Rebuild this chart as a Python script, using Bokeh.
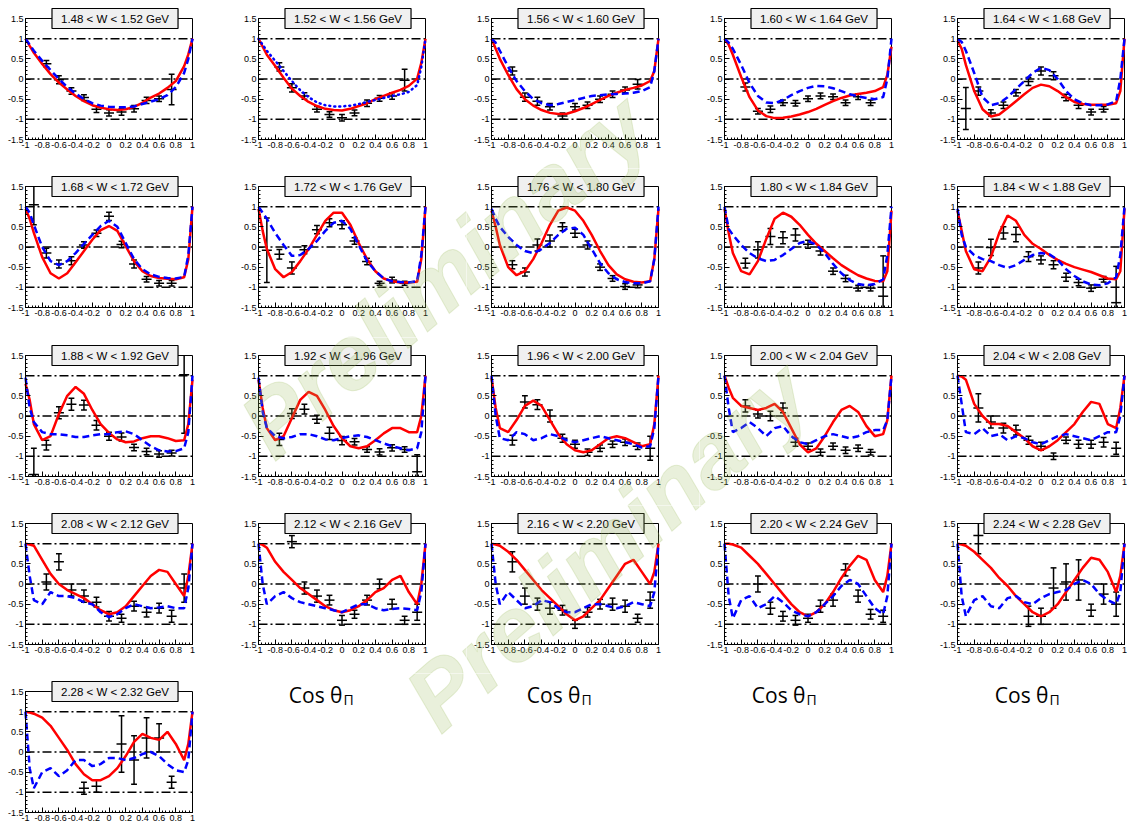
import math
from bokeh.plotting import figure
from bokeh.layouts import row, column
from bokeh.models import Label, LinearAxis, FixedTicker, CustomJSTickFormatter, Range1d, ColumnDataSource
from bokeh.embed import file_html
from bokeh.resources import INLINE

# ---------------- data ----------------
W_BINS = ["1.48 < W < 1.52 GeV", "1.52 < W < 1.56 GeV", "1.56 < W < 1.60 GeV", "1.60 < W < 1.64 GeV",
          "1.64 < W < 1.68 GeV", "1.68 < W < 1.72 GeV", "1.72 < W < 1.76 GeV", "1.76 < W < 1.80 GeV",
          "1.80 < W < 1.84 GeV", "1.84 < W < 1.88 GeV", "1.88 < W < 1.92 GeV", "1.92 < W < 1.96 GeV",
          "1.96 < W < 2.00 GeV", "2.00 < W < 2.04 GeV", "2.04 < W < 2.08 GeV", "2.08 < W < 2.12 GeV",
          "2.12 < W < 2.16 GeV", "2.16 < W < 2.20 GeV", "2.20 < W < 2.24 GeV", "2.24 < W < 2.28 GeV",
          "2.28 < W < 2.32 GeV"]

X_LIM = (-1.0, 1.0)
Y_LIM = (-1.5, 1.5)
X_TICKS = [-1, -0.8, -0.6, -0.4, -0.2, 0, 0.2, 0.4, 0.6, 0.8, 1]
Y_TICKS = [-1.5, -1, -0.5, 0, 0.5, 1, 1.5]
REF_LEVELS = [1, 0, -1]
AXIS_TITLE = "Cos θ"
AXIS_SUB = "Π"
WATERMARK = "Preliminary"

CURVE_X = [-1.0, -0.95, -0.9, -0.8, -0.7, -0.6, -0.5, -0.4, -0.3, -0.2, -0.1, 0.0,
           0.1, 0.2, 0.3, 0.4, 0.5, 0.6, 0.7, 0.8, 0.9, 0.95, 1.0]

X11 = [-0.75, -0.6, -0.45, -0.3, -0.15, 0.0, 0.15, 0.3, 0.45, 0.6, 0.75]
X12A = [-0.9, -0.75, -0.6, -0.45, -0.3, -0.15, 0.0, 0.15, 0.3, 0.45, 0.6, 0.75]
X12B = [-0.75, -0.6, -0.45, -0.3, -0.15, 0.0, 0.15, 0.3, 0.45, 0.6, 0.75, 0.9]
X13 = [-0.9, -0.75, -0.6, -0.45, -0.3, -0.15, 0.0, 0.15, 0.3, 0.45, 0.6, 0.75, 0.9]
X11B = [-0.6, -0.45, -0.3, -0.15, 0.0, 0.15, 0.3, 0.45, 0.6, 0.75, 0.9]
X20 = [-0.75, -0.15, 0.0, 0.15, 0.3, 0.45, 0.6, 0.75, 0.9]
X21 = [-0.3, -0.15, 0.15, 0.3, 0.45, 0.6, 0.75]

P01_Y = [0.38, -0.02, -0.3, -0.46, -0.75, -0.84, -0.82, -0.74, -0.53, -0.49, -0.26]
P01_E = [0.08, 0.1, 0.08, 0.07, 0.08, 0.08, 0.08, 0.08, 0.08, 0.07, 0.38]
P02_Y = [0.3, -0.22, -0.42, -0.75, -0.88, -0.96, -0.84, -0.6, -0.48, -0.42, -0.03]
P02_E = [0.1, 0.1, 0.08, 0.07, 0.07, 0.08, 0.07, 0.08, 0.07, 0.08, 0.27]
P03_Y = [0.2, -0.45, -0.55, -0.69, -0.92, -0.69, -0.65, -0.5, -0.38, -0.27, -0.13]
P03_E = [0.1, 0.1, 0.1, 0.08, 0.08, 0.08, 0.08, 0.08, 0.08, 0.07, 0.12]
P04_Y = [-0.2, -0.8, -0.75, -0.59, -0.6, -0.49, -0.42, -0.44, -0.59, -0.44, -0.59]
P04_E = [0.1, 0.07, 0.08, 0.07, 0.07, 0.07, 0.07, 0.07, 0.07, 0.07, 0.07]
P05_Y = [-0.73, -0.3, -0.84, -0.65, -0.34, -0.06, 0.2, 0.08, -0.46, -0.65, -0.82, -0.75]
P05_E = [0.52, 0.1, 0.08, 0.08, 0.08, 0.1, 0.1, 0.1, 0.08, 0.08, 0.07, 0.07]
P06_Y = [1.05, -0.15, -0.42, -0.34, 0.05, 0.34, 0.76, 0.06, -0.42, -0.8, -0.9, -0.9]
P06_E = [0.5, 0.12, 0.1, 0.1, 0.08, 0.08, 0.1, 0.08, 0.1, 0.07, 0.07, 0.07]
P07_Y = [-0.08, -0.18, -0.52, -0.07, 0.43, 0.6, 0.55, 0.15, -0.36, -0.9, -0.82, -0.9]
P07_E = [0.8, 0.12, 0.15, 0.1, 0.1, 0.1, 0.1, 0.08, 0.08, 0.05, 0.07, 0.05]
P08_Y = [-0.44, -0.62, 0.05, 0.15, 0.5, 0.34, 0.05, -0.5, -0.78, -0.98, -0.94]
P08_E = [0.1, 0.1, 0.15, 0.15, 0.1, 0.1, 0.1, 0.08, 0.07, 0.07, 0.07]
P09_Y = [-0.4, -0.07, 0.26, 0.23, 0.3, 0.07, -0.1, -0.6, -0.78, -1.02, -1.02, -1.22]
P09_E = [0.12, 0.2, 0.2, 0.15, 0.15, 0.1, 0.1, 0.08, 0.08, 0.07, 0.07, 1.0]
P10_Y = [-0.52, -0.01, 0.35, 0.31, -0.24, -0.32, -0.44, -0.75, -0.88, -1.02, -0.8, -1.38]
P10_E = [0.15, 0.2, 0.15, 0.18, 0.12, 0.1, 0.1, 0.1, 0.08, 0.08, 0.07, 0.9]
P11_Y = [-1.45, -0.72, 0.08, 0.29, 0.27, -0.23, -0.5, -0.52, -0.78, -0.88, -0.94, -0.92, 1.02]
P11_E = [0.65, 0.12, 0.15, 0.15, 0.12, 0.12, 0.1, 0.1, 0.08, 0.08, 0.08, 0.07, 1.45]
P12_Y = [-0.58, 0.06, 0.17, -0.08, -0.43, -0.61, -0.64, -0.83, -0.89, -0.79, -0.83, -1.38]
P12_E = [0.15, 0.12, 0.12, 0.1, 0.15, 0.1, 0.08, 0.07, 0.08, 0.08, 0.07, 0.42]
P13_Y = [-0.6, 0.35, 0.28, 0.0, -0.55, -0.7, -0.9, -0.8, -0.7, -0.65, -0.75, -0.8]
P13_E = [0.12, 0.15, 0.12, 0.15, 0.1, 0.1, 0.08, 0.08, 0.08, 0.08, 0.08, 0.3]
P14_Y = [0.25, 0.05, 0.0, 0.2, -0.65, -0.75, -0.9, -0.75, -0.85, -0.8, -0.9]
P14_E = [0.15, 0.1, 0.12, 0.12, 0.1, 0.08, 0.08, 0.08, 0.08, 0.08, 0.07]
P15_Y = [0.2, -0.15, -0.3, -0.35, -0.6, -0.75, -1.0, -0.6, -0.7, -0.7, -0.65, -0.8]
P15_E = [0.35, 0.15, 0.12, 0.12, 0.1, 0.1, 0.08, 0.08, 0.1, 0.1, 0.12, 0.15]
P16_Y = [0.05, 0.55, -0.15, -0.3, -0.45, -0.8, -0.85, -0.55, -0.7, -0.6, -0.8, -0.1]
P16_E = [0.2, 0.2, 0.15, 0.15, 0.12, 0.12, 0.1, 0.12, 0.12, 0.12, 0.15, 0.35]
P17_Y = [1.05, -0.1, -0.3, -0.4, -0.9, -0.75, -0.4, 0.0, -0.5, -0.9, -0.7]
P17_E = [0.15, 0.15, 0.15, 0.12, 0.12, 0.1, 0.12, 0.12, 0.12, 0.1, 0.2]
P18_Y = [0.55, -0.3, -0.5, -0.6, -0.65, -1.0, -0.7, -0.5, -0.5, -0.55, -0.85, -0.4]
P18_E = [0.25, 0.2, 0.15, 0.15, 0.12, 0.1, 0.12, 0.12, 0.15, 0.15, 0.1, 0.2]
P19_Y = [0.0, -0.6, -0.8, -0.9, -0.85, -0.55, -0.4, 0.35, -0.3, -0.75, -0.8]
P19_E = [0.2, 0.15, 0.12, 0.12, 0.1, 0.15, 0.15, 0.15, 0.15, 0.12, 0.15]
P20_Y = [1.2, -0.8, -0.8, -0.1, 0.05, 0.1, -0.65, -0.25, -0.5]
P20_E = [0.45, 0.25, 0.2, 0.5, 0.45, 0.5, 0.15, 0.25, 0.3]
P21_Y = [-0.9, -0.85, 0.2, -0.2, 0.35, 0.35, -0.75]
P21_E = [0.15, 0.15, 0.7, 0.6, 0.5, 0.35, 0.15]

RED01 = [1.0, 0.82, 0.65, 0.37, 0.12, -0.09, -0.26, -0.42, -0.55, -0.65, -0.71, -0.75, -0.77, -0.75, -0.69, -0.59, -0.46, -0.36, -0.22, -0.05, 0.32, 0.61, 1.0]
BLUE01 = [1.0, 0.85, 0.7, 0.45, 0.22, 0.0, -0.2, -0.36, -0.5, -0.6, -0.66, -0.69, -0.7, -0.7, -0.68, -0.62, -0.56, -0.5, -0.4, -0.2, 0.15, 0.5, 1.0]
RED02 = [1.0, 0.8, 0.6, 0.32, 0.03, -0.24, -0.42, -0.57, -0.67, -0.74, -0.77, -0.78, -0.74, -0.67, -0.6, -0.5, -0.42, -0.34, -0.27, -0.17, 0.01, 0.4, 1.0]
BLUE02 = [1.0, 0.85, 0.7, 0.45, 0.2, -0.05, -0.28, -0.45, -0.58, -0.65, -0.68, -0.68, -0.66, -0.62, -0.57, -0.52, -0.47, -0.42, -0.38, -0.32, -0.15, 0.3, 1.0]
RED03 = [1.0, 0.75, 0.5, 0.1, -0.25, -0.5, -0.66, -0.77, -0.84, -0.87, -0.86, -0.8, -0.72, -0.62, -0.52, -0.42, -0.34, -0.27, -0.22, -0.16, -0.05, 0.2, 1.0]
BLUE03 = [1.0, 0.9, 0.7, 0.3, -0.05, -0.3, -0.5, -0.6, -0.65, -0.62, -0.57, -0.52, -0.47, -0.42, -0.4, -0.38, -0.37, -0.36, -0.34, -0.3, -0.2, 0.2, 1.0]
RED04 = [1.0, 0.85, 0.6, 0.05, -0.45, -0.78, -0.92, -0.97, -0.96, -0.93, -0.88, -0.82, -0.74, -0.64, -0.55, -0.47, -0.41, -0.37, -0.34, -0.3, -0.2, 0.1, 0.8]
BLUE04 = [1.0, 0.9, 0.75, 0.35, -0.1, -0.42, -0.58, -0.6, -0.52, -0.4, -0.3, -0.22, -0.17, -0.18, -0.23, -0.3, -0.38, -0.43, -0.47, -0.5, -0.45, 0.0, 1.0]
RED05 = [0.95, 0.75, 0.35, -0.3, -0.75, -0.93, -0.88, -0.72, -0.55, -0.38, -0.22, -0.14, -0.18, -0.3, -0.45, -0.57, -0.62, -0.64, -0.64, -0.64, -0.6, -0.3, 1.0]
BLUE05 = [1.0, 0.92, 0.7, 0.15, -0.45, -0.65, -0.6, -0.45, -0.25, -0.05, 0.15, 0.28, 0.22, 0.0, -0.3, -0.5, -0.6, -0.65, -0.65, -0.63, -0.55, 0.0, 1.0]
RED06 = [0.95, 0.7, 0.35, -0.25, -0.65, -0.78, -0.65, -0.38, -0.1, 0.18, 0.42, 0.52, 0.4, 0.02, -0.35, -0.6, -0.72, -0.77, -0.79, -0.8, -0.75, -0.3, 1.0]
BLUE06 = [1.0, 0.85, 0.55, 0.0, -0.35, -0.45, -0.35, -0.15, 0.08, 0.3, 0.52, 0.65, 0.5, 0.1, -0.3, -0.55, -0.68, -0.74, -0.77, -0.78, -0.74, -0.2, 1.0]
RED07 = [0.95, 0.4, -0.05, -0.55, -0.75, -0.62, -0.35, -0.05, 0.3, 0.65, 0.85, 0.85, 0.55, 0.1, -0.3, -0.6, -0.78, -0.85, -0.88, -0.88, -0.86, -0.3, 1.0]
BLUE07 = [1.0, 0.85, 0.7, 0.35, 0.05, -0.22, -0.2, -0.05, 0.15, 0.4, 0.6, 0.65, 0.45, 0.05, -0.35, -0.6, -0.78, -0.85, -0.87, -0.88, -0.85, -0.2, 1.0]
RED08 = [0.9, 0.5, 0.05, -0.5, -0.7, -0.6, -0.3, 0.1, 0.55, 0.9, 0.98, 0.9, 0.65, 0.3, -0.1, -0.45, -0.68, -0.8, -0.86, -0.88, -0.85, -0.3, 0.95]
BLUE08 = [0.95, 0.7, 0.5, 0.25, 0.05, -0.1, -0.15, -0.05, 0.1, 0.3, 0.45, 0.48, 0.3, -0.05, -0.4, -0.65, -0.8, -0.87, -0.9, -0.9, -0.85, -0.3, 1.0]
RED09 = [0.95, 0.35, -0.15, -0.6, -0.68, -0.35, 0.2, 0.7, 0.85, 0.75, 0.55, 0.3, 0.08, -0.1, -0.28, -0.45, -0.58, -0.7, -0.78, -0.84, -0.85, -0.6, 0.9]
BLUE09 = [1.0, 0.45, 0.3, 0.05, -0.15, -0.28, -0.35, -0.32, -0.2, -0.05, 0.1, 0.15, 0.05, -0.15, -0.42, -0.65, -0.82, -0.92, -0.95, -0.92, -0.8, -0.2, 1.0]
RED10 = [0.9, 0.4, -0.1, -0.55, -0.6, -0.25, 0.35, 0.78, 0.65, 0.3, 0.08, -0.05, -0.2, -0.32, -0.42, -0.5, -0.56, -0.62, -0.7, -0.78, -0.8, -0.6, 0.95]
BLUE10 = [0.95, 0.3, 0.0, -0.2, -0.3, -0.35, -0.45, -0.52, -0.45, -0.32, -0.2, -0.15, -0.18, -0.32, -0.55, -0.72, -0.85, -0.93, -0.95, -0.9, -0.75, -0.2, 1.0]
RED11 = [0.8, 0.4, -0.2, -0.6, -0.5, 0.05, 0.5, 0.72, 0.55, 0.15, -0.2, -0.42, -0.58, -0.65, -0.63, -0.55, -0.5, -0.5, -0.55, -0.62, -0.6, -0.2, 0.9]
BLUE11 = [0.95, 0.2, -0.15, -0.4, -0.45, -0.45, -0.48, -0.52, -0.52, -0.48, -0.45, -0.45, -0.4, -0.38, -0.45, -0.6, -0.75, -0.85, -0.88, -0.87, -0.8, -0.4, 1.0]
RED12 = [0.9, 0.2, -0.3, -0.6, -0.5, -0.05, 0.4, 0.6, 0.5, 0.15, -0.25, -0.55, -0.75, -0.8, -0.75, -0.6, -0.43, -0.3, -0.3, -0.4, -0.4, 0.0, 1.0]
BLUE12 = [0.95, 0.1, -0.3, -0.5, -0.55, -0.52, -0.45, -0.45, -0.5, -0.58, -0.6, -0.55, -0.5, -0.48, -0.52, -0.6, -0.68, -0.75, -0.8, -0.85, -0.8, -0.4, 1.0]
RED13 = [0.95, 0.2, -0.3, -0.4, -0.1, 0.25, 0.38, 0.25, -0.1, -0.45, -0.7, -0.85, -0.9, -0.85, -0.7, -0.55, -0.5, -0.55, -0.65, -0.75, -0.7, -0.2, 1.0]
BLUE13 = [1.0, 0.0, -0.55, -0.6, -0.4, -0.45, -0.6, -0.55, -0.45, -0.5, -0.6, -0.65, -0.6, -0.55, -0.5, -0.55, -0.6, -0.65, -0.7, -0.78, -0.75, -0.3, 1.0]
RED14 = [1.0, 0.7, 0.45, 0.25, 0.2, 0.15, 0.2, 0.3, 0.1, -0.3, -0.7, -0.9, -0.8, -0.5, -0.15, 0.15, 0.25, 0.1, -0.25, -0.5, -0.45, -0.1, 1.0]
BLUE14 = [1.0, 0.2, -0.4, -0.3, -0.15, -0.3, -0.5, -0.3, -0.25, -0.5, -0.65, -0.7, -0.6, -0.5, -0.45, -0.5, -0.55, -0.5, -0.4, -0.35, -0.35, -0.1, 1.0]
RED15 = [1.0, 0.98, 0.9, 0.3, 0.0, -0.2, -0.2, -0.25, -0.4, -0.55, -0.75, -0.85, -0.75, -0.6, -0.4, -0.2, 0.1, 0.35, 0.3, -0.2, -0.3, 0.2, 1.0]
BLUE15 = [1.0, 0.3, -0.4, -0.45, -0.3, -0.5, -0.45, -0.6, -0.5, -0.55, -0.65, -0.7, -0.6, -0.5, -0.45, -0.5, -0.55, -0.6, -0.5, -0.4, -0.4, 0.0, 1.0]
RED16 = [1.0, 0.98, 0.95, 0.6, 0.25, 0.0, -0.15, -0.25, -0.35, -0.5, -0.65, -0.75, -0.7, -0.55, -0.3, -0.05, 0.2, 0.35, 0.3, 0.0, -0.3, 0.2, 1.0]
BLUE16 = [1.0, 0.2, -0.4, -0.5, -0.2, -0.3, -0.3, -0.35, -0.45, -0.5, -0.7, -0.82, -0.75, -0.6, -0.5, -0.55, -0.6, -0.58, -0.55, -0.6, -0.6, -0.1, 1.0]
RED17 = [1.0, 0.97, 0.9, 0.55, 0.3, 0.1, -0.1, -0.25, -0.4, -0.55, -0.65, -0.7, -0.65, -0.55, -0.4, -0.2, -0.1, 0.1, 0.2, -0.2, -0.5, 0.0, 1.0]
BLUE17 = [1.0, 0.0, -0.5, -0.3, -0.2, -0.35, -0.45, -0.5, -0.55, -0.6, -0.65, -0.7, -0.6, -0.5, -0.5, -0.6, -0.65, -0.62, -0.6, -0.62, -0.65, -0.2, 1.0]
RED18 = [1.0, 0.98, 0.95, 0.8, 0.6, 0.35, 0.1, -0.15, -0.35, -0.55, -0.75, -0.9, -0.8, -0.6, -0.4, -0.1, 0.2, 0.5, 0.6, 0.3, 0.0, 0.3, 1.0]
BLUE18 = [1.0, 0.0, -0.5, -0.2, -0.4, -0.6, -0.55, -0.4, -0.45, -0.6, -0.7, -0.7, -0.6, -0.5, -0.5, -0.55, -0.6, -0.55, -0.45, -0.5, -0.55, -0.2, 1.0]
RED19 = [1.0, 1.0, 0.98, 0.9, 0.7, 0.5, 0.25, 0.0, -0.25, -0.5, -0.7, -0.8, -0.7, -0.5, -0.2, 0.15, 0.45, 0.7, 0.6, 0.1, -0.2, 0.2, 1.0]
BLUE19 = [1.0, -0.3, -0.85, -0.4, -0.3, -0.6, -0.5, -0.3, -0.45, -0.65, -0.75, -0.8, -0.7, -0.5, -0.3, -0.05, 0.1, 0.0, -0.3, -0.6, -0.75, -0.3, 1.0]
RED20 = [1.0, 0.98, 0.95, 0.8, 0.6, 0.4, 0.15, -0.05, -0.3, -0.5, -0.7, -0.8, -0.7, -0.5, -0.2, 0.1, 0.4, 0.65, 0.6, 0.3, -0.2, 0.2, 1.0]
BLUE20 = [1.0, -0.3, -0.8, -0.4, -0.3, -0.55, -0.6, -0.35, -0.3, -0.45, -0.5, -0.35, -0.25, -0.2, -0.15, 0.0, 0.1, 0.0, -0.25, -0.4, -0.5, -0.2, 1.0]
RED21 = [1.0, 0.98, 0.95, 0.85, 0.65, 0.35, 0.05, -0.3, -0.55, -0.7, -0.7, -0.6, -0.4, -0.1, 0.25, 0.45, 0.35, 0.3, 0.5, 0.2, -0.2, 0.2, 1.0]
BLUE21 = [1.0, -0.4, -0.9, -0.5, -0.4, -0.6, -0.45, -0.2, -0.2, -0.35, -0.3, -0.15, -0.15, -0.2, -0.15, -0.05, 0.0, -0.1, -0.3, -0.45, -0.5, -0.2, 1.0]

PANELS = [
    (X11, P01_Y, P01_E, RED01, BLUE01), (X11, P02_Y, P02_E, RED02, BLUE02),
    (X11, P03_Y, P03_E, RED03, BLUE03), (X11, P04_Y, P04_E, RED04, BLUE04),
    (X12A, P05_Y, P05_E, RED05, BLUE05), (X12A, P06_Y, P06_E, RED06, BLUE06),
    (X12A, P07_Y, P07_E, RED07, BLUE07), (X11, P08_Y, P08_E, RED08, BLUE08),
    (X12B, P09_Y, P09_E, RED09, BLUE09), (X12B, P10_Y, P10_E, RED10, BLUE10),
    (X13, P11_Y, P11_E, RED11, BLUE11), (X12B, P12_Y, P12_E, RED12, BLUE12),
    (X12B, P13_Y, P13_E, RED13, BLUE13), (X11, P14_Y, P14_E, RED14, BLUE14),
    (X12B, P15_Y, P15_E, RED15, BLUE15), (X12B, P16_Y, P16_E, RED16, BLUE16),
    (X11B, P17_Y, P17_E, RED17, BLUE17), (X12B, P18_Y, P18_E, RED18, BLUE18),
    (X11B, P19_Y, P19_E, RED19, BLUE19), (X20, P20_Y, P20_E, RED20, BLUE20),
    (X21, P21_Y, P21_E, RED21, BLUE21),
]
DOTTED_BLUE = {1}

# ---------------- layout (pixels) ----------------
COL_LEFT = [0, 233, 466, 699, 932]
COL_W = [233, 233, 233, 233, 195]
ROW_TOP = [0, 168, 337, 505, 673]
ROW_H = [168, 169, 168, 168, 151]
BOX_DX, BOX_DY = 25, 18          # plot box offset inside each cell
BOX_W, BOX_H = 167, 121          # plot box size
COS_DX = [0, 40, 45, 37, 47]     # where "Cos θ" starts, relative to the box left
COS_BASE = 694                   # page y of its baseline

XBAR = 0.06
CAP = 0.035

fmt = CustomJSTickFormatter(code="const s = tick.toFixed(1); return s.endsWith('.0') ? s.slice(0, -2) : s;")
X_MINOR = [round(-1 + 0.04 * k, 2) for k in range(51)]
Y_MINOR = [round(-1.5 + 0.1 * k, 1) for k in range(31)]

SX = BOX_W / (X_LIM[1] - X_LIM[0])
SY = BOX_H / (Y_LIM[1] - Y_LIM[0])

cells = []


def to_data(cell, px, py):
    cl, ct = cell["left"], cell["top"]
    return (X_LIM[0] + (px - cl - BOX_DX) / SX, Y_LIM[1] - (py - ct - BOX_DY) / SY)


def make_cell(col, r):
    w, h = COL_W[col], ROW_H[r]
    x0 = X_LIM[0] - BOX_DX / SX
    x1 = X_LIM[0] + (w - BOX_DX) / SX
    y1 = Y_LIM[1] + BOX_DY / SY
    y0 = Y_LIM[1] - (h - BOX_DY) / SY
    p = figure(frame_width=w, frame_height=h, x_range=Range1d(x0, x1), y_range=Range1d(y0, y1),
               x_axis_location=None, y_axis_location=None, min_border=0,
               output_backend="svg", toolbar_location=None, tools="")
    p.title.visible = False
    p.grid.visible = False
    p.outline_line_color = None
    p.background_fill_color = "white"
    p.border_fill_color = "white"
    cell = dict(fig=p, left=COL_LEFT[col], top=ROW_TOP[r], w=w, h=h)
    cells.append(cell)
    return cell


def style_axis(ax):
    ax.formatter = fmt
    ax.major_tick_in = 5
    ax.major_tick_out = 0
    ax.minor_tick_in = 2
    ax.minor_tick_out = 0
    ax.major_label_text_font = "Liberation Sans"
    ax.major_label_text_font_size = "9px"
    ax.major_label_text_color = "black"
    ax.major_label_standoff = 2
    ax.axis_line_color = "black"
    ax.major_tick_line_color = "black"
    ax.minor_tick_line_color = "black"


def fill_panel(cell, i):
    p = cell["fig"]
    yax = LinearAxis(fixed_location=X_LIM[0], bounds=Y_LIM,
                     ticker=FixedTicker(ticks=Y_TICKS, minor_ticks=Y_MINOR))
    xax = LinearAxis(fixed_location=Y_LIM[0], bounds=X_LIM,
                     ticker=FixedTicker(ticks=X_TICKS, minor_ticks=X_MINOR))
    style_axis(yax)
    style_axis(xax)
    p.add_layout(yax, "left")
    p.add_layout(xax, "below")

    # frame box
    p.quad(left=[X_LIM[0]], right=[X_LIM[1]], bottom=[Y_LIM[0]], top=[Y_LIM[1]],
           fill_color=None, line_color="black", line_width=1)
    # dash-dot reference levels
    p.segment(x0=[X_LIM[0]] * len(REF_LEVELS), x1=[X_LIM[1]] * len(REF_LEVELS),
              y0=REF_LEVELS, y1=REF_LEVELS, line_color="black", line_width=1.5, line_dash="9 3 2 3")

    xs, ys, es, red, blue = PANELS[i]
    lo = [max(y - e, Y_LIM[0]) for y, e in zip(ys, es)]
    hi = [min(y + e, Y_LIM[1]) for y, e in zip(ys, es)]
    src = ColumnDataSource(dict(x=xs, y=ys, lo=lo, hi=hi,
                                xl=[x - XBAR for x in xs], xr=[x + XBAR for x in xs]))
    kw = dict(line_color="black", line_width=1.5)
    p.segment(x0="x", y0="lo", x1="x", y1="hi", source=src, **kw)
    p.segment(x0="xl", y0="y", x1="xr", y1="y", source=src, **kw)
    top_caps = [(x, y + e) for x, y, e in zip(xs, ys, es) if y + e <= Y_LIM[1]]
    bot_caps = [(x, y - e) for x, y, e in zip(xs, ys, es) if y - e >= Y_LIM[0]]
    caps = top_caps + bot_caps
    p.segment(x0=[c[0] - CAP for c in caps], x1=[c[0] + CAP for c in caps],
              y0=[c[1] for c in caps], y1=[c[1] for c in caps], **kw)

    p.line(CURVE_X, red, line_color="#ff0000", line_width=2.5)
    if i in DOTTED_BLUE:
        p.line(CURVE_X, blue, line_color="#0000ff", line_width=2.5, line_dash="1 4", line_cap="round")
    else:
        p.line(CURVE_X, blue, line_color="#0000ff", line_width=2.5, line_dash="7 4")

    p.add_layout(Label(x=0.072, y=Y_LIM[1], text=W_BINS[i], text_align="center", text_baseline="middle",
                       text_font="Liberation Sans", text_font_size="11.5px", text_color="black",
                       background_fill_color="#f0f0f0", border_line_color="black", border_line_width=1.2,
                       padding=(9, 4)))


grid_rows = []
for r in range(5):
    figs = []
    for col in range(5):
        cell = make_cell(col, r)
        idx = r * 5 + col
        if idx < len(PANELS):
            fill_panel(cell, idx)
        else:
            px = cell["left"] + BOX_DX + COS_DX[col] + 44
            ax_, ay_ = to_data(cell, px, COS_BASE)
            cell["fig"].add_layout(Label(x=ax_, y=ay_, text=AXIS_TITLE, text_align="right",
                                         text_baseline="alphabetic", text_font="Open Sans",
                                         text_font_size="21px", text_color="black"))
            sx_, sy_ = to_data(cell, px + 1, COS_BASE + 5)
            cell["fig"].add_layout(Label(x=sx_, y=sy_, text=AXIS_SUB, text_align="left",
                                         text_baseline="alphabetic", text_font="Open Sans",
                                         text_font_size="14px", text_color="black"))
        figs.append(cell["fig"])
    grid_rows.append(row(*figs, spacing=0))

# watermark pieces, tiled across the cell canvases so the text reads as one
WM_SPECS = [(444, 275, 40.4), (607, 545, 41.4)]
WM_SIZE = 92
for (cx, cy, deg) in WM_SPECS:
    a = math.radians(deg)
    half_w, half_h = 5.45 * WM_SIZE / 2, 0.45 * WM_SIZE
    for cell in cells:
        cl, ct, w, h = cell["left"], cell["top"], cell["w"], cell["h"]
        hit = False
        for ti in range(61):
            t = -half_w + 2 * half_w * ti / 60
            for si in range(5):
                s = -half_h + 2 * half_h * si / 4
                px = cx + t * math.cos(a) + s * math.sin(a)
                py = cy - t * math.sin(a) + s * math.cos(a)
                if cl <= px <= cl + w and ct <= py <= ct + h:
                    hit = True
                    break
            if hit:
                break
        if hit:
            dx, dy = to_data(cell, cx, cy)
            cell["fig"].add_layout(Label(x=dx, y=dy, text=WATERMARK, angle=a, angle_units="rad",
                                         text_align="center", text_baseline="middle",
                                         text_font="Liberation Sans", text_font_style="bold italic",
                                         text_font_size=f"{WM_SIZE}px", text_color="#9bbb59",
                                         text_alpha=0.22, text_outline_color="#9bbb59"))

layout = column(*grid_rows, spacing=0)
open("out.html", "w").write(file_html(layout, INLINE))
